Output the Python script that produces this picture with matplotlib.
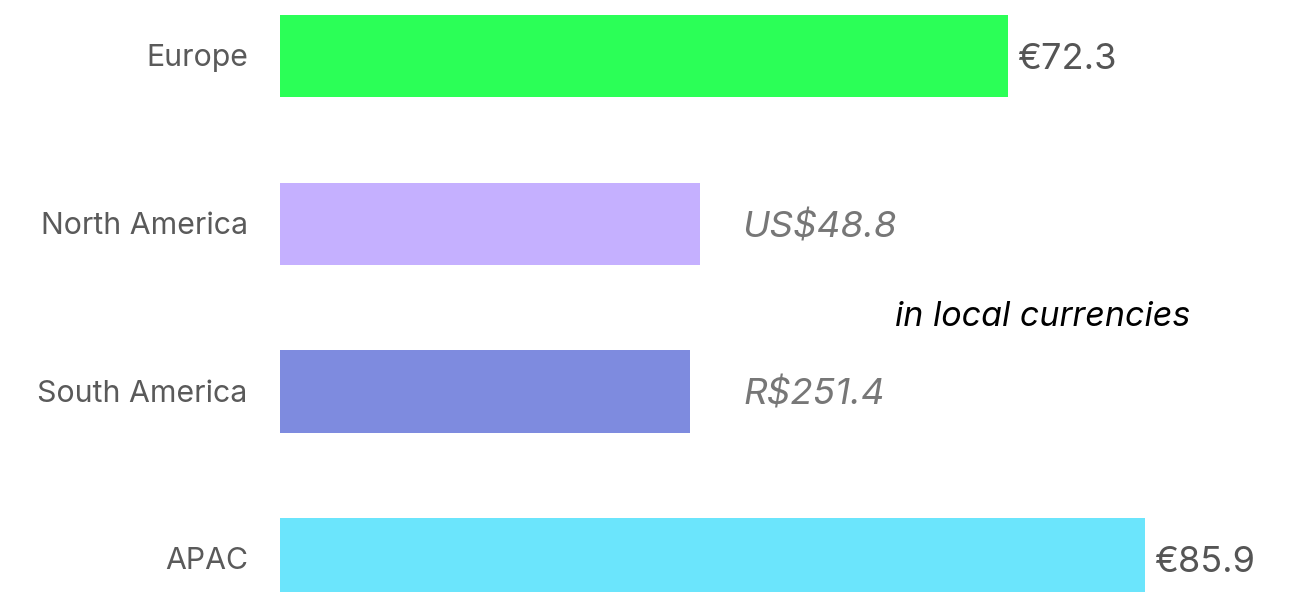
import matplotlib.pyplot as plt

# average price per region, converted to EUR for bar length
regions = ["Europe", "North America", "South America", "APAC"]
eur_values = [72.3, 41.7, 40.7, 85.9]
value_labels = ["€72.3", "US$48.8", "R$251.4", "€85.9"]
local_currency = [False, True, True, False]
colors = ["#2bff57", "#c5b0ff", "#7e8bdf", "#6be5fc"]

plt.rcParams['font.family'] = ['Inter', 'DejaVu Sans']

fig = plt.figure(figsize=(13.14, 5.92), dpi=100)
ax = fig.add_axes([280 / 1314, 0, 1 - 280 / 1314, 1])

ypos = list(range(len(regions)))
ax.barh(ypos, eur_values, height=0.49, color=colors)

ax.set_xlim(0, 102.7)
ax.set_ylim(3.196, -0.334)

for i, (v, lab, loc) in enumerate(zip(eur_values, value_labels, local_currency)):
    if loc:
        # converted values get a fixed column, in italics
        ax.text(46.0, i, lab, ha='left', va='center_baseline', fontsize=26.5,
                style='italic', color='#777777')
    else:
        ax.text(v + 0.9, i, lab, ha='left', va='center_baseline', fontsize=26,
                color='#555555')

for i, r in enumerate(regions):
    ax.text(-3.2, i - 0.005, r, ha='right', va='center_baseline', fontsize=21.8,
            color='#5a5a5a')

ax.text(61.1, 1.533, "in local currencies", ha='left', va='center_baseline',
        fontsize=24.5, style='italic', color='black')

ax.axis('off')
fig.savefig("out.png", dpi=100)
